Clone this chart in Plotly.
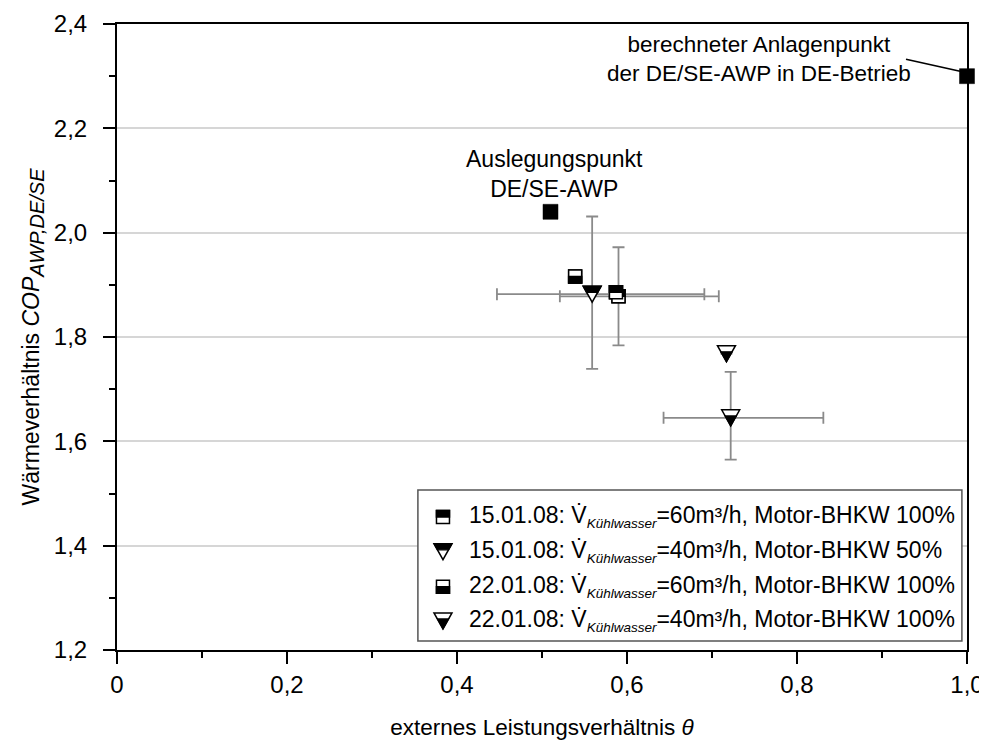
import plotly.graph_objects as go

# ---------------- data ----------------
# 15.01.08: V_Kühlwasser = 60 m³/h, Motor-BHKW 100 %  (square, upper half black)
s1_x = [0.590, 0.587]
s1_y = [1.878, 1.886]
s1_ex_plus = [0.118, 0.0]
s1_ex_minus = [0.069, 0.0]
s1_ey = [0.094, 0.0]

# 15.01.08: V_Kühlwasser = 40 m³/h, Motor-BHKW 50 %  (triangle, upper part black)
s2_x = [0.559]
s2_y = [1.882]
s2_ex_plus = [0.132]
s2_ex_minus = [0.112]
s2_ey_plus = [0.149]
s2_ey_minus = [0.143]

# 22.01.08: V_Kühlwasser = 60 m³/h, Motor-BHKW 100 %  (square, lower half black)
s3_x = [0.539]
s3_y = [1.916]

# 22.01.08: V_Kühlwasser = 40 m³/h, Motor-BHKW 100 %  (triangle, lower part black)
s4_x = [0.717, 0.722]
s4_y = [1.768, 1.645]
s4_ex_plus = [0.0, 0.109]
s4_ex_minus = [0.0, 0.079]
s4_ey_plus = [0.0, 0.088]
s4_ey_minus = [0.0, 0.080]

# special points
design_x = [0.510]
design_y = [2.040]
calc_x = [1.000]
calc_y = [2.300]

x_ticks = [0, 0.2, 0.4, 0.6, 0.8, 1.0]
x_ticktext = ["0", "0,2", "0,4", "0,6", "0,8", "1,0"]
y_ticks = [1.2, 1.4, 1.6, 1.8, 2.0, 2.2, 2.4]
y_ticktext = ["1,2", "1,4", "1,6", "1,8", "2,0", "2,2", "2,4"]

SUB = "<sub><span style='font-size:13.5px'><i>Kühlwasser</i></span></sub>"
legend_labels = [
    "15.01.08: V\u0307" + SUB + "=60m³/h, Motor-BHKW 100%",
    "15.01.08: V\u0307" + SUB + "=40m³/h, Motor-BHKW 50%",
    "22.01.08: V\u0307" + SUB + "=60m³/h, Motor-BHKW 100%",
    "22.01.08: V\u0307" + SUB + "=40m³/h, Motor-BHKW 100%",
]
legend_kinds = ["sq_top", "tri_top", "sq_bottom", "tri_bottom"]

FONT = "Liberation Sans, Arial, sans-serif"
ERR_COL = "#8a8a8a"

fig = go.Figure()

def err(plus, minus):
    return dict(type="data", symmetric=False, array=plus, arrayminus=minus,
                color=ERR_COL, thickness=1.8, width=6)

# base traces (markers covered by half-filled shapes below)
fig.add_trace(go.Scatter(x=s1_x, y=s1_y, mode="markers", name=legend_labels[0],
                         marker=dict(symbol="square", size=13, color="white",
                                     line=dict(color="black", width=1.5)),
                         error_x=err(s1_ex_plus, s1_ex_minus),
                         error_y=err(s1_ey, s1_ey), showlegend=False))
fig.add_trace(go.Scatter(x=s2_x, y=s2_y, mode="markers", name=legend_labels[1],
                         marker=dict(symbol="triangle-down", size=10, color="white",
                                     line=dict(color="black", width=1.5)),
                         error_x=err(s2_ex_plus, s2_ex_minus),
                         error_y=err(s2_ey_plus, s2_ey_minus), showlegend=False))
fig.add_trace(go.Scatter(x=s3_x, y=s3_y, mode="markers", name=legend_labels[2],
                         marker=dict(symbol="square", size=13, color="white",
                                     line=dict(color="black", width=1.5)),
                         showlegend=False))
fig.add_trace(go.Scatter(x=s4_x, y=s4_y, mode="markers", name=legend_labels[3],
                         marker=dict(symbol="triangle-down", size=10, color="white",
                                     line=dict(color="black", width=1.5)),
                         error_x=err(s4_ex_plus, s4_ex_minus),
                         error_y=err(s4_ey_plus, s4_ey_minus), showlegend=False))
fig.add_trace(go.Scatter(x=design_x + calc_x, y=design_y + calc_y, mode="markers",
                         marker=dict(symbol="square", size=15, color="black",
                                     line=dict(color="black", width=0.5)),
                         cliponaxis=False, showlegend=False))

# ---------------- half-filled marker shapes ----------------
shapes = []
SQ = 6.5
TW, TH = 9.0, 8.0
SPLIT = TH - 0.38 * 2 * TH
HW = TW * (SPLIT + TH) / (2 * TH)

def marker_shapes(kind, x, y, xref, yref):
    base = dict(xref=xref, yref=yref, xsizemode="pixel", ysizemode="pixel",
                xanchor=x, yanchor=y, layer="above")
    out = []
    if kind.startswith("sq"):
        out.append(dict(base, type="rect", x0=-SQ, x1=SQ, y0=-SQ, y1=SQ,
                        fillcolor="white", line=dict(color="black", width=1.5)))
        if kind == "sq_top":
            out.append(dict(base, type="rect", x0=-SQ, x1=SQ, y0=0, y1=SQ,
                            fillcolor="black", line=dict(color="black", width=1.5)))
        else:
            out.append(dict(base, type="rect", x0=-SQ, x1=SQ, y0=-SQ, y1=0,
                            fillcolor="black", line=dict(color="black", width=1.5)))
    else:
        out.append(dict(base, type="path",
                        path=f"M {-TW},{TH} L {TW},{TH} L 0,{-TH} Z",
                        fillcolor="white", line=dict(color="black", width=1.5)))
        if kind == "tri_top":
            out.append(dict(base, type="path",
                            path=f"M {-TW},{TH} L {TW},{TH} L {HW:.2f},{SPLIT:.2f} L {-HW:.2f},{SPLIT:.2f} Z",
                            fillcolor="black", line=dict(color="black", width=1.2)))
        else:
            out.append(dict(base, type="path",
                            path=f"M {-HW:.2f},{SPLIT:.2f} L {HW:.2f},{SPLIT:.2f} L 0,{-TH} Z",
                            fillcolor="black", line=dict(color="black", width=1.2)))
    return out

for x, y in zip(s3_x, s3_y):
    shapes += marker_shapes("sq_bottom", x, y, "x", "y")
for x, y in zip(s1_x, s1_y):
    shapes += marker_shapes("sq_top", x, y, "x", "y")
for x, y in zip(s2_x, s2_y):
    shapes += marker_shapes("tri_top", x, y, "x", "y")
for x, y in zip(s4_x, s4_y):
    shapes += marker_shapes("tri_bottom", x, y, "x", "y")

# leader line to the calculated plant point
shapes.append(dict(type="line", xref="x", yref="y", xsizemode="pixel", ysizemode="pixel",
                   xanchor=calc_x[0], yanchor=calc_y[0], x0=-61, y0=17, x1=-7, y1=5,
                   line=dict(color="black", width=1.5), layer="above"))

# ---------------- manual legend ----------------
L_X0, L_X1, L_Y0, L_Y1 = 0.354, 0.994, 0.0145, 0.2555
shapes.append(dict(type="rect", xref="paper", yref="paper", x0=L_X0, x1=L_X1, y0=L_Y0, y1=L_Y1,
                   fillcolor="white", line=dict(color="#555555", width=1.5), layer="above"))
row_y = [0.2125, 0.157, 0.101, 0.0465]
mark_x = 0.3835
text_x = 0.412
annotations = []
for kind, lab, ry in zip(legend_kinds, legend_labels, row_y):
    shapes += marker_shapes(kind, mark_x, ry, "paper", "paper")
    annotations.append(dict(xref="paper", yref="paper", x=text_x, y=ry, xanchor="left",
                            yanchor="middle", text=lab, showarrow=False,
                            font=dict(family=FONT, size=23, color="black")))

annotations.append(dict(xref="x", yref="y", x=0.515, y=2.113,
                        text="Auslegungspunkt<br>DE/SE-AWP", showarrow=False,
                        font=dict(family=FONT, size=23, color="black"), align="center"))
annotations.append(dict(xref="x", yref="y", x=0.755, y=2.333,
                        text="berechneter Anlagenpunkt<br>der DE/SE-AWP in DE-Betrieb",
                        showarrow=False, font=dict(family=FONT, size=22.5, color="black"),
                        align="center"))

axis_common = dict(showline=True, linecolor="black", linewidth=2, mirror=True,
                   ticks="outside", ticklen=12, tickwidth=2, tickcolor="black",
                   zeroline=False, automargin=False,
                   tickfont=dict(family=FONT, size=24, color="black"))

fig.update_layout(
    width=987, height=740,
    margin=dict(l=109, r=28, t=16, b=98),
    paper_bgcolor="white", plot_bgcolor="white",
    font=dict(family=FONT, size=22, color="black"),
    shapes=shapes, annotations=annotations,
    showlegend=False,
    xaxis=dict(axis_common, range=[0, 1.0], tickvals=x_ticks, ticktext=x_ticktext,
               showgrid=False, ticklabelstandoff=0,
               minor=dict(dtick=0.1, tick0=0, ticks="outside", ticklen=6, tickwidth=2,
                          tickcolor="black", showgrid=False),
               title=dict(text="externes Leistungsverhältnis <i>θ</i>", standoff=22,
                          font=dict(family=FONT, size=22.5))),
    yaxis=dict(axis_common, range=[1.2, 2.4], tickvals=y_ticks, ticktext=y_ticktext,
               showgrid=True, gridcolor="#d6d6d6", gridwidth=1.5, ticklabelstandoff=11,
               minor=dict(dtick=0.1, tick0=1.2, ticks="outside", ticklen=6, tickwidth=2,
                          tickcolor="black", showgrid=False),
               title=dict(text="Wärmeverhältnis <i>COP</i><sub><span style='font-size:20px'><i>AWP,DE/SE</i></span></sub>",
                          standoff=8, font=dict(family=FONT, size=23))),
)

fig.write_html("out.html")
